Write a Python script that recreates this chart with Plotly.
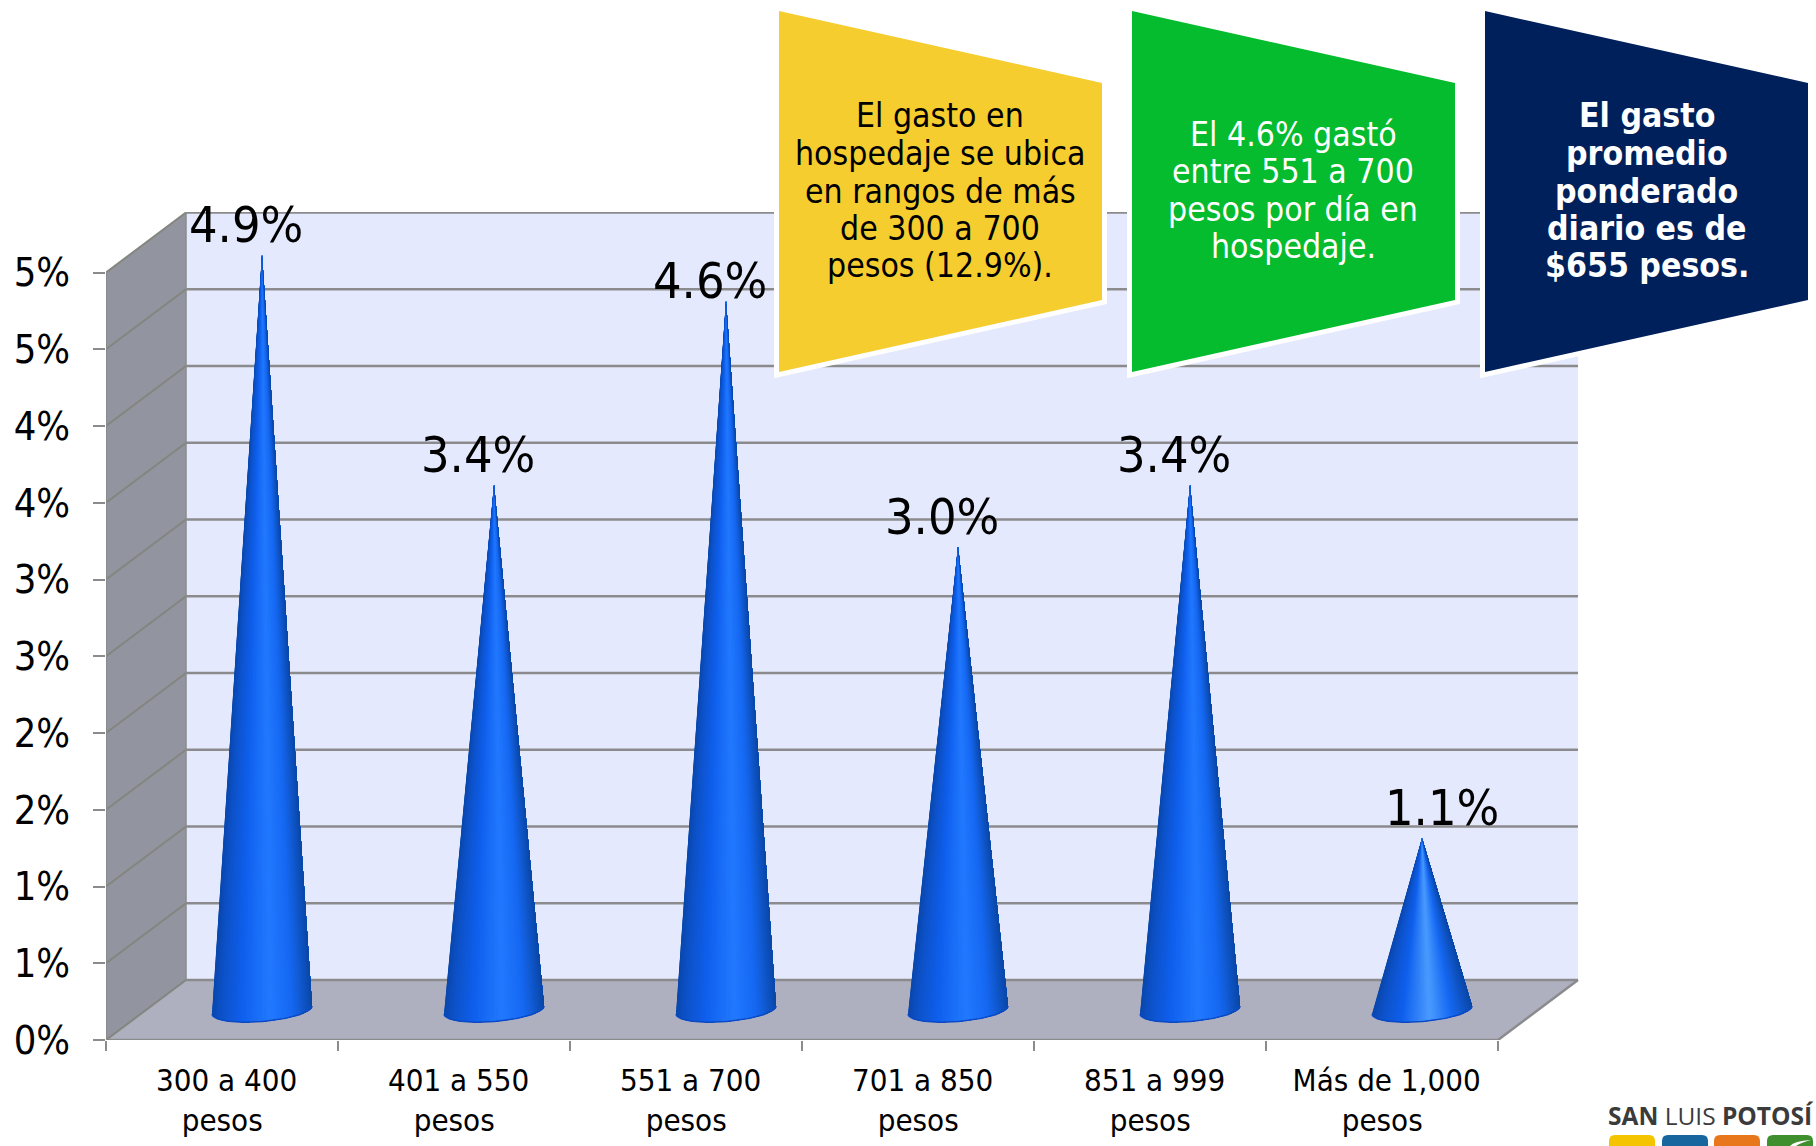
import numpy as np
import plotly.graph_objects as go

# Chart data
categories = ["300 a 400<br>pesos\u00a0", "401 a 550<br>pesos\u00a0", "551 a 700<br>pesos\u00a0",
              "701 a 850<br>pesos\u00a0", "851 a 999<br>pesos\u00a0", "Más de 1,000<br>pesos\u00a0"]
values = [4.9, 3.4, 4.6, 3.0, 3.4, 1.1]
y_ticks = [0, 0.5, 1, 1.5, 2, 2.5, 3, 3.5, 4, 4.5, 5]
y_tick_labels = ["0%", "1%", "1%", "2%", "2%", "3%", "3%", "4%", "4%", "5%", "5%"]
note_lodging_range = ["El gasto en", "hospedaje se ubica", "en rangos de más", "de 300 a 700", "pesos (12.9%)."]
note_share = ["El 4.6% gastó", "entre 551 a 700", "pesos por día en", "hospedaje."]
note_average = ["El gasto", "promedio", "ponderado", "diario es de", "$655 pesos."]

W, H = 1816, 1146
FONT = "DejaVu Sans Condensed, Tahoma, Noto Sans"
L, R, T, B = 106, 1579, 212, 1040           # plot box in page pixels
UNIT_X = 232.0                              # pixels per category
UNIT_Y = 153.5                              # pixels per percentage point
DEPTH_X = 80 / UNIT_X                       # oblique depth of the 3D box
DEPTH_Y = 60 / UNIT_Y
N = len(categories)
GRID = "#8b8b8d"


def hexrgb(c):
    return np.array([int(c[i:i + 2], 16) for i in (1, 3, 5)], float)


def shade(u, highlight):
    stops = [0.0, 0.07, 0.3, 0.58, 0.8, 0.94, 1.0]
    cols = ["#0a47ac", "#0d50c4", "#1060ee", highlight, "#1668f2", "#0e52c0", "#0b48a8"]
    rgb = [np.interp(u, stops, [hexrgb(c)[k] for c in cols]) for k in range(3)]
    return "rgb(%d,%d,%d)" % tuple(rgb)


fig = go.Figure()


def poly(xs, ys, fill):
    fig.add_trace(go.Scatter(x=xs, y=ys, mode="none", fill="toself", fillcolor=fill,
                             hoverinfo="skip", showlegend=False))


def seg(xs, ys, color, width):
    fig.add_trace(go.Scatter(x=xs, y=ys, mode="lines", line=dict(color=color, width=width),
                             hoverinfo="skip", showlegend=False, cliponaxis=False))


# Box: back wall, side wall and floor
poly([DEPTH_X, N + DEPTH_X, N + DEPTH_X, DEPTH_X], [DEPTH_Y, DEPTH_Y, 5 + DEPTH_Y, 5 + DEPTH_Y], "#e4e9fd")
poly([0, DEPTH_X, DEPTH_X, 0], [0, DEPTH_Y, 5 + DEPTH_Y, 5], "#92949f")
poly([0, N, N + DEPTH_X, DEPTH_X], [0, 0, DEPTH_Y, DEPTH_Y], "#aeb0bf")

# Gridlines wrap from the side wall on to the back wall
for v in y_ticks:
    seg([0, DEPTH_X], [v, v + DEPTH_Y], "#85857f", 2)
    seg([DEPTH_X, N + DEPTH_X], [v + DEPTH_Y, v + DEPTH_Y], GRID, 2.5)
seg([DEPTH_X, DEPTH_X], [DEPTH_Y, 5 + DEPTH_Y], GRID, 1.5)
seg([0, 0], [0, 5], GRID, 2)
seg([0, N, N + DEPTH_X], [0, 0, DEPTH_Y], GRID, 2.5)

# Cones stand in the middle of the box depth; each shaded band is painted
# over the rest of the surface so neighbouring bands leave no seams
A = 50 / UNIT_X
TILT = 4 / UNIT_Y
ELL = 11.5 / UNIT_Y
SLICES = 56
for i, v in enumerate(values):
    cx = i + 0.5 + DEPTH_X / 2
    cy = DEPTH_Y / 2
    apex_y = v + cy + 3 / UNIT_Y
    t = np.linspace(np.pi, 2 * np.pi, SLICES + 1)
    bx = cx + A * np.cos(t)
    by = cy + ELL * np.sin(t) + TILT * np.cos(t)
    highlight = "#4a9cff" if v < 2 else "#2279ff"
    for k in range(SLICES):
        u = (1 + np.cos((t[k] + t[k + 1]) / 2)) / 2
        poly([cx, *bx[k:]], [apex_y, *by[k:]], shade(u, highlight))
    seg(list(bx), list(by), "#0b49c4", 1.5)
    # The tallest-but-one label sits closer to its cone, the shortest to its right
    fig.add_annotation(x=cx, y=apex_y, text=f"{v:.1f}%", showarrow=False,
                       xanchor="center", yanchor="middle",
                       xshift=20 if i == N - 1 else -16, yshift=20 if i == 2 else 30,
                       font=dict(family=FONT, size=50, color="#000000"))


def px(x):
    return (x - L) / (R - L)


def py(y):
    return (B - y) / (B - T)


def paper_path(points):
    return "M " + " L ".join(f"{px(x):.5f},{py(y):.5f}" for x, y in points) + " Z"


# Callout panels with a white keyline
panels = [
    (note_lodging_range, 779, 940, 116, "#f5cd2e", "#000000", False),
    (note_share, 1132, 1293, 134, "#05bb2e", "#ffffff", False),
    (note_average, 1485, 1647, 116, "#00205b", "#ffffff", True),
]
PANEL_W = 323
LINE_STEP = 37.5
for lines, x0, xc, top, fill, ink, bold in panels:
    pts = [(x0, 11), (x0 + PANEL_W, 83), (x0 + PANEL_W, 300), (x0, 372)]
    fig.add_shape(type="path", path=paper_path(pts), xref="paper", yref="paper",
                  fillcolor="#ffffff", line=dict(color="#ffffff", width=10), layer="above")
    fig.add_shape(type="path", path=paper_path(pts), xref="paper", yref="paper",
                  fillcolor=fill, line=dict(width=0), layer="above")
    for n, line in enumerate(lines):
        fig.add_annotation(xref="paper", yref="paper", x=px(xc), y=py(top + n * LINE_STEP),
                           xanchor="center", yanchor="middle", showarrow=False,
                           text=f"<b>{line}</b>" if bold else line,
                           font=dict(family=FONT, size=33.5, color=ink))

# Brand mark in the lower right corner
fig.add_annotation(xref="paper", yref="paper", x=px(1711), y=py(1115), xanchor="center", yanchor="middle",
                   showarrow=False, text="<b>SAN</b> LUIS <b>POTOSÍ</b>",
                   font=dict(family="Open Sans", size=24.5, color="#3b3b3b"))
for x0, color in zip([1609, 1662, 1714, 1767], ["#f5c400", "#17669e", "#e8761a", "#3f8f2f"]):
    x1, y0, y1, r = x0 + 46, 1135, 1150, 6
    path = (f"M {px(x0):.5f},{py(y1):.5f} L {px(x0):.5f},{py(y0 + r):.5f} "
            f"Q {px(x0):.5f},{py(y0):.5f} {px(x0 + r):.5f},{py(y0):.5f} "
            f"L {px(x1 - r):.5f},{py(y0):.5f} Q {px(x1):.5f},{py(y0):.5f} {px(x1):.5f},{py(y0 + r):.5f} "
            f"L {px(x1):.5f},{py(y1):.5f} Z")
    fig.add_shape(type="path", path=path, xref="paper", yref="paper",
                  fillcolor=color, line=dict(width=0), layer="above")
# White swoosh cut into the last square
fig.add_shape(type="path", xref="paper", yref="paper", layer="above", fillcolor="#ffffff", line=dict(width=0),
              path=(f"M {px(1790):.5f},{py(1146):.5f} Q {px(1794):.5f},{py(1141):.5f} {px(1811):.5f},{py(1140):.5f} "
                    f"Q {px(1800):.5f},{py(1143):.5f} {px(1796):.5f},{py(1146):.5f} Z"))

fig.update_layout(
    width=W, height=H, autosize=False, showlegend=False,
    margin=dict(l=L, r=W - R, t=T, b=H - B, pad=0),
    paper_bgcolor="#ffffff", plot_bgcolor="#ffffff",
    xaxis=dict(range=[0, (R - L) / UNIT_X], showgrid=False, zeroline=False, showline=False, automargin=False,
               tickmode="array", tickvals=[i + 0.52 for i in range(N)], ticktext=categories,
               ticks="", tickangle=0, ticklabelstandoff=19,
               tickfont=dict(family=FONT, size=31, color="#000000"),
               minor=dict(tickmode="array", tickvals=list(range(N + 1)), ticks="outside",
                          ticklen=10, tickwidth=2, tickcolor=GRID, showgrid=False)),
    yaxis=dict(range=[0, (B - T) / UNIT_Y], showgrid=False, zeroline=False, showline=False, automargin=False,
               tickmode="array", tickvals=y_ticks, ticktext=y_tick_labels,
               ticks="outside", ticklen=12, tickwidth=2, tickcolor=GRID, ticklabelstandoff=15,
               tickfont=dict(family=FONT, size=39.5, color="#000000")),
)

fig.write_html("out.html")
